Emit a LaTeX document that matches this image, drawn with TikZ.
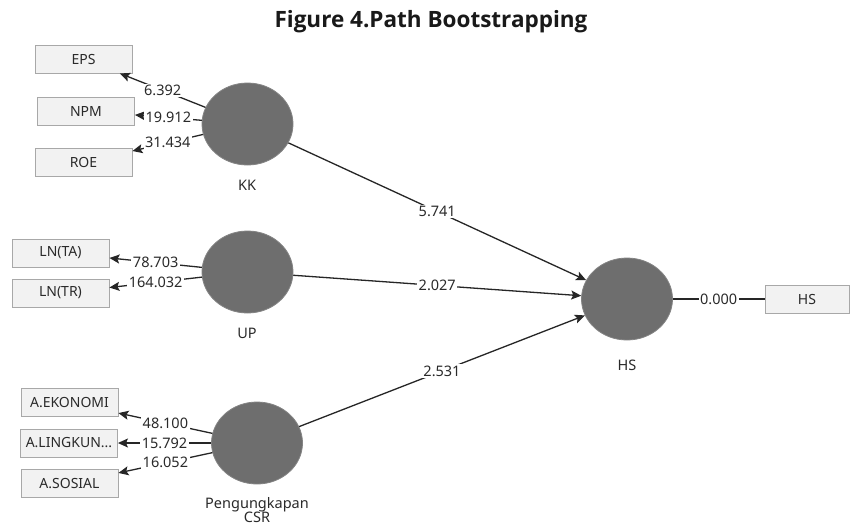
\documentclass[tikz,border=0pt]{standalone}
\usepackage{fontspec}
\setmainfont{Noto Sans}
\newfontfamily\titlefont{Open Sans}
\usetikzlibrary{arrows.meta,shapes.geometric}
\definecolor{latgray}{HTML}{6E6E6E}
\definecolor{boxfill}{HTML}{F2F2F2}
\definecolor{boxline}{HTML}{A8A8A8}
\definecolor{txt}{HTML}{2A2A2A}
\begin{document}
\begin{tikzpicture}[x=1pt,y=-1pt,
  ind/.style={draw=boxline, fill=boxfill, line width=0.9pt, minimum width=97pt, minimum height=28pt, inner sep=0pt, font=\fontsize{14}{16}\selectfont, text=txt},
  lat/.style={ellipse, fill=latgray, draw=latgray!85, line width=0.8pt, minimum width=91pt, minimum height=82pt, inner sep=0pt},
  lbl/.style={fill=white, inner sep=1.5pt, font=\fontsize{14.5}{16}\selectfont, text=txt},
  latname/.style={font=\fontsize{14.5}{14}\selectfont, text=txt, align=center},
  link/.style={line width=1.3pt, draw=black!85, -{Stealth[length=10pt,width=9pt,inset=2pt]}},
  plain/.style={line width=1.3pt, draw=black!85}]
\path[use as bounding box, fill=white] (0,0) rectangle (851,528);

\node[anchor=base, font=\titlefont\bfseries\fontsize{22.5}{26}\selectfont, text=black!90] (title) at (431,27) {Figure 4.Path Bootstrapping};

% indicators
\node[ind] (EPS) at (83.5,59) {EPS};
\node[ind] (NPM) at (86,111) {NPM};
\node[ind] (ROE) at (83.5,162.5) {ROE};
\node[ind] (LNTA) at (60.5,253) {LN(TA)};
\node[ind] (LNTR) at (60.5,293) {LN(TR)};
\node[ind] (AEK) at (69.5,402.5) {A.EKONOMI};
\node[ind] (ALI) at (69,443) {A.LINGKUN...};
\node[ind] (ASO) at (69.5,483.5) {A.SOSIAL};
\node[ind, minimum width=84pt] (HSbox) at (807,299) {HS};

% latent variables
\node[lat] (KK) at (247.5,124) {};
\node[lat] (UP) at (247.5,272) {};
\node[lat] (CSR) at (257,443) {};
\node[lat] (HS) at (627,299) {};

\node[latname] (KKn) at (247,185) {KK};
\node[latname] (UPn) at (247,333) {UP};
\node[latname, inner sep=0pt] (CSRn) at (257,510) {Pengungkapan\\CSR};
\node[latname] (HSn) at (627,365) {HS};

% outer loadings
\draw[link] (KK) -- node[lbl] {6.392} (EPS);
\draw[link] (KK) -- node[lbl] {19.912} (NPM);
\draw[link] (KK) -- node[lbl] {31.434} (ROE);
\draw[link] (UP) -- node[lbl] {78.703} (LNTA);
\draw[link] (UP) -- node[lbl] {164.032} (LNTR);
\draw[link] (CSR) -- node[lbl] {48.100} (AEK);
\draw[link] (CSR) -- node[lbl] {15.792} (ALI);
\draw[link] (CSR) -- node[lbl] {16.052} (ASO);
\draw[plain] (HS) -- node[lbl] {0.000} (HSbox);

% paths
\draw[link] (KK) -- node[lbl] {5.741} (HS);
\draw[link] (UP) -- node[lbl] {2.027} (HS);
\draw[link] (CSR) -- node[lbl] {2.531} (HS);
\end{tikzpicture}
\end{document}
